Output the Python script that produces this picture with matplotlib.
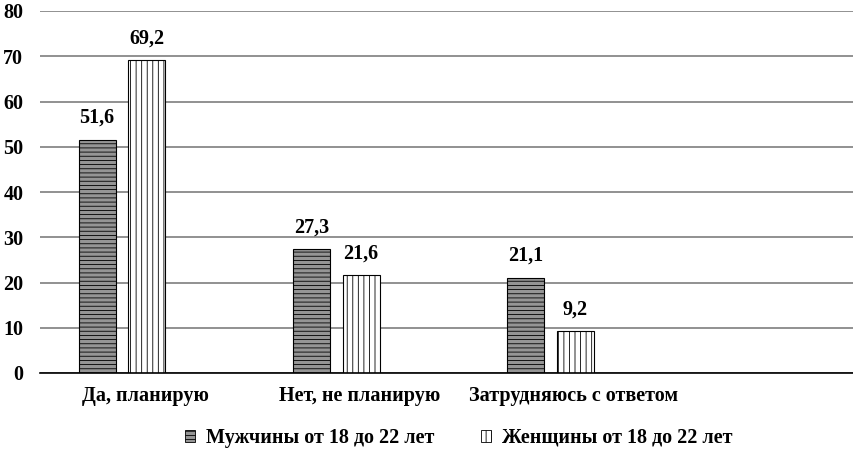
import matplotlib
matplotlib.use("Agg")
import matplotlib.pyplot as plt
from matplotlib.patches import Patch
import numpy as np

categories = ["Да, планирую", "Нет, не планирую", "Затрудняюсь с ответом"]
series_names = ["Мужчины от 18 до 22 лет", "Женщины от 18 до 22 лет"]
men = [51.6, 27.3, 21.1]
women = [69.2, 21.6, 9.2]
yticks = [0, 10, 20, 30, 40, 50, 60, 70, 80]

plt.rcParams['font.family'] = ['Liberation Serif', 'DejaVu Serif']
plt.rcParams['font.weight'] = 'bold'
plt.rcParams['hatch.linewidth'] = 0.6

W, H = 854, 453
fig = plt.figure(figsize=(W/100, H/100), dpi=100)
ax = fig.add_axes([40/W, 1-373/H, (853-40)/W, (373-11)/H])

SP = 214.5
x = np.arange(len(categories))
bw = 37/SP
off_m = -48/SP
off_w = 1.5/SP
FS = 14.5

bm = ax.bar(x + off_m, men, bw, facecolor='#959595', edgecolor='black',
            hatch='----', linewidth=0.8, zorder=3)
bwb = ax.bar(x + off_w, women, bw, facecolor='white', edgecolor='black',
             hatch='|||', linewidth=0.8, zorder=3)

def fmt(v):
    return f"{v:.1f}".replace('.', ',')

for bars, vals in ((bm, men), (bwb, women)):
    for b, v in zip(bars, vals):
        ax.text(b.get_x() + b.get_width()/2, v + 2.6, fmt(v), ha='center', va='bottom',
                fontsize=FS, fontweight='bold')

ax.set_xlim((40-145)/SP, (853-145)/SP)
ax.set_ylim(0, 80)
ax.set_yticks(yticks)
ax.set_yticklabels([str(t) for t in yticks], fontsize=FS, fontweight='bold')
ax.set_xticks(x)
ax.set_xticklabels(categories, fontsize=FS, fontweight='bold')
ax.tick_params(axis='both', length=0)
ax.tick_params(axis='y', pad=12)
ax.tick_params(axis='x', pad=9)

ax.grid(axis='y', color='#888888', linewidth=1.3, zorder=0)
ax.set_axisbelow(True)
for s in ['top', 'right', 'left']:
    ax.spines[s].set_visible(False)
ax.spines['bottom'].set_color('black')
ax.spines['bottom'].set_linewidth(1.2)
ax.spines['bottom'].set_zorder(4)

handles = [Patch(facecolor='#959595', edgecolor='black', hatch='----', linewidth=0.6),
           Patch(facecolor='white', edgecolor='black', hatch='|||', linewidth=0.6)]
fig.legend(handles, series_names, loc='center', bbox_to_anchor=(459/W, 1-438/H),
           ncol=2, frameon=False, handlelength=0.5, handleheight=0.5,
           handletextpad=0.55, columnspacing=2.3, prop={'weight': 'bold', 'size': FS})

fig.savefig("out.png", dpi=100)
